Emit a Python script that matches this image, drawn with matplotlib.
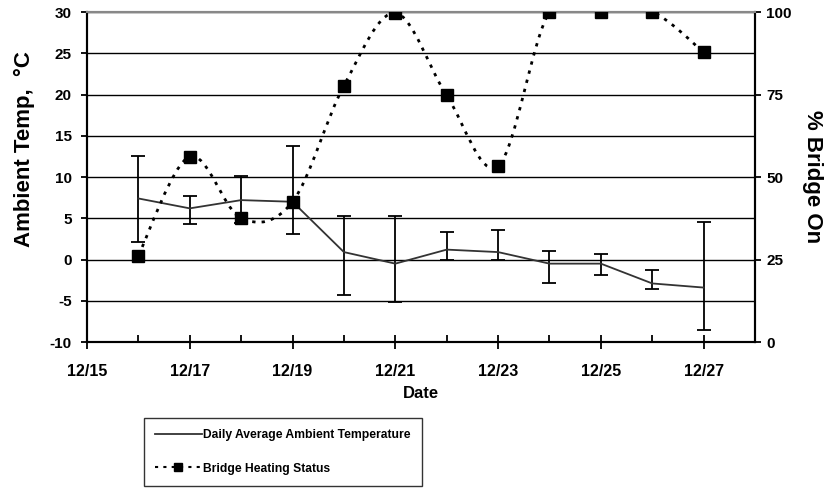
import matplotlib.pyplot as plt
import numpy as np
from matplotlib.path import Path
from matplotlib.patches import PathPatch
from matplotlib.lines import Line2D

plt.rcParams['font.family'] = ['Liberation Sans', 'DejaVu Sans']
plt.rcParams['font.weight'] = 'bold'

# day of month in December
days = [16, 17, 18, 19, 20, 21, 22, 23, 24, 25, 26, 27]
temp_avg = [7.4, 6.2, 7.2, 7.0, 0.9, -0.5, 1.2, 0.9, -0.5, -0.5, -2.9, -3.4]
temp_hi = [12.5, 7.7, 10.1, 13.7, 5.3, 5.3, 3.3, 3.6, 1.0, 0.7, -1.3, 4.5]
temp_lo = [2.1, 4.3, 4.4, 3.1, -4.3, -5.1, 0.0, 0.0, -2.9, -1.9, -3.6, -8.6]
bridge_on = [26.2, 56.2, 37.5, 42.5, 77.7, 99.7, 74.7, 53.3, 100, 100, 100, 87.8]

xtick_days = [15, 17, 19, 21, 23, 25, 27]
xtick_labels = ['12/15', '12/17', '12/19', '12/21', '12/23', '12/25', '12/27']

fig = plt.figure(figsize=(8.34, 4.9), dpi=100)
ax = fig.add_axes([0.1043, 0.302, 0.8010, 0.6735])
ax2 = ax.twinx()

# temperature with asymmetric error bars
d = np.array(days, dtype=float)
avg = np.array(temp_avg)
yerr = [avg - np.array(temp_lo), np.array(temp_hi) - avg]
ax.errorbar(d, avg, yerr=yerr, color='black', ecolor='black', elinewidth=1.3,
            capsize=5, capthick=1.3, linewidth=0)
ax.plot(d, avg, color='#333333', linewidth=1.3, zorder=3)

# bridge heating: smoothed curve (Bezier path through the points) + markers
p = np.column_stack([d, bridge_on])
verts = [p[0]]
codes = [Path.MOVETO]
n = len(p)
for i in range(n - 1):
    p0 = p[i - 1] if i > 0 else p[i]
    p3 = p[i + 2] if i + 2 < n else p[i + 1]
    c1 = p[i] + (p[i + 1] - p0) / 6.0
    c2 = p[i + 1] - (p3 - p[i]) / 6.0
    verts += [c1, c2, p[i + 1]]
    codes += [Path.CURVE4] * 3
curve = PathPatch(Path(verts, codes), facecolor='none', edgecolor='black',
                  linewidth=2.0, linestyle=(0, (1.2, 2.2)))
ax2.add_patch(curve)
ax2.plot(days, bridge_on, 's', color='black', markersize=8, zorder=5)

ax.set_xlim(15, 28)
ax.set_ylim(-10, 30)
ax2.set_ylim(0, 100)

ax.set_yticks(np.arange(-10, 31, 5))
ax.set_yticklabels([str(v) for v in range(-10, 31, 5)], fontsize=11, fontweight='bold')
ax2.set_yticks([0, 25, 50, 75, 100])
ax2.set_yticklabels(['0', '25', '50', '75', '100'], fontsize=11, fontweight='bold')
ax.set_xticks(xtick_days)
ax.set_xticklabels(xtick_labels, fontsize=11.5, fontweight='bold')
ax.set_xticks(range(16, 28, 2), minor=True)
ax.tick_params(axis='x', which='major', direction='inout', length=10, width=1.3, pad=11)
ax.tick_params(axis='x', which='minor', direction='in', length=5, width=1.3)
ax.tick_params(axis='y', direction='out', length=4, width=1.3, pad=7)
ax2.tick_params(axis='y', direction='out', length=4, width=1.3, pad=4)

ax.grid(axis='y', color='black', linewidth=1.0)
ax.set_axisbelow(True)
for a in (ax, ax2):
    for side in ('left', 'right', 'bottom'):
        a.spines[side].set_linewidth(1.5)
        a.spines[side].set_color('black')
    a.spines['top'].set_color('#888888')
    a.spines['top'].set_linewidth(1.5)

ax.set_xlabel('Date', fontsize=12, fontweight='bold', labelpad=5)
ax.set_ylabel('Ambient Temp,  \u00b0C', fontsize=16, fontweight='bold')
ax.yaxis.set_label_coords(-0.078, 0.585)
ax2.set_ylabel('% Bridge On', fontsize=16, fontweight='bold', rotation=270)
ax2.yaxis.set_label_coords(1.102, 0.5)

handles = [Line2D([], [], color='#333333', linewidth=1.3),
           Line2D([], [], color='black', linewidth=1.5, linestyle=(0, (1.5, 2.5)),
                  marker='s', markersize=6)]
labels = ['Daily Average Ambient Temperature', 'Bridge Heating Status']
leg = fig.legend(handles, labels, loc='center', bbox_to_anchor=(0.339, 0.078),
                 fontsize=8.7, frameon=True, fancybox=False, edgecolor='black',
                 handlelength=3.9, handletextpad=0.15, labelspacing=1.8,
                 borderpad=0.9)
leg.get_frame().set_linewidth(1.0)
for t in leg.get_texts():
    t.set_fontweight('bold')

fig.savefig('out.png', dpi=100)
